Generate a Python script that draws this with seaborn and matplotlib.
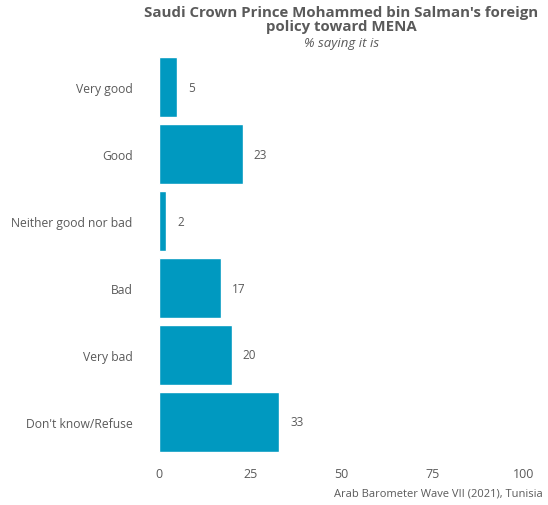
import matplotlib
matplotlib.use('Agg')
import pandas as pd
import matplotlib.pyplot as plt
import seaborn as sns

categories = ['Very good', 'Good', 'Neither good nor bad', 'Bad', 'Very bad', "Don't know/Refuse"]
values = [5, 23, 2, 17, 20, 33]
x_ticks = [0, 25, 50, 75, 100]

df = pd.DataFrame({'answer': categories, 'pct': values})

sns.set_style('white')
plt.rcParams['font.family'] = ['Open Sans', 'DejaVu Sans']
grey = '#5a5a5a'

fig = plt.figure(figsize=(5.48, 5.06), dpi=100)
ax = fig.add_axes([0.290, 0.098, 0.666, 0.794])

sns.barplot(x='pct', y='answer', data=df, color='#0099c0', width=0.9,
            saturation=1, ax=ax, order=categories)

for i, v in enumerate(values):
    ax.text(v + 3.0, i, str(v), va='center', ha='left', fontsize=8.5, color=grey)

ax.set_xlim(0, 100)
ax.set_ylim(5.5, -0.5)
ax.set_xticks(x_ticks)
ax.set_xticklabels([str(t) for t in x_ticks])
ax.tick_params(axis='x', labelsize=9, colors=grey, length=0, pad=8)
ax.tick_params(axis='y', labelsize=8.7, colors=grey, length=0, pad=19)
ax.set_xlabel('')
ax.set_ylabel('')
for s in ax.spines.values():
    s.set_visible(False)

fig.text(0.623, 0.989, "Saudi Crown Prince Mohammed bin Salman's foreign\npolicy toward MENA",
         ha='center', va='top', fontsize=10.8, fontweight='bold', color=grey, linespacing=1.02)
fig.text(0.623, 0.927, '% saying it is', ha='center', va='top', fontsize=9.5,
         style='italic', color=grey)
fig.text(0.991, 0.012, 'Arab Barometer Wave VII (2021), Tunisia', ha='right', va='bottom',
         fontsize=8, color=grey)

fig.savefig('out.png', dpi=100)
